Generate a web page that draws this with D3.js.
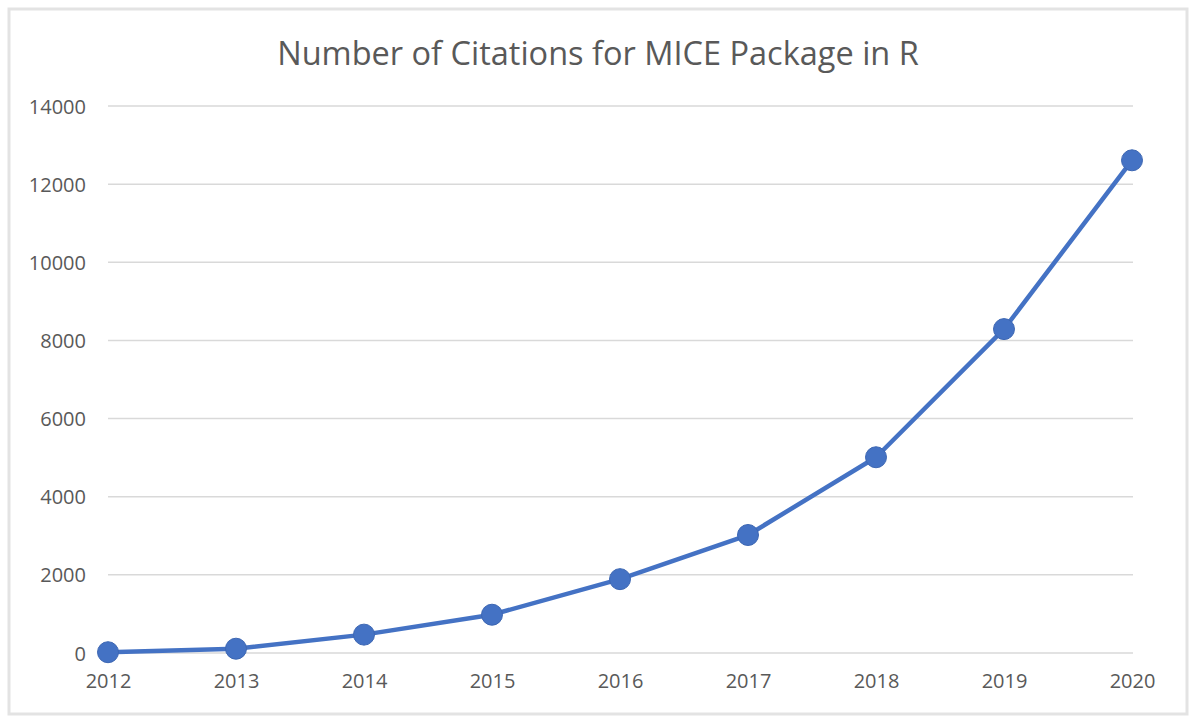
<!DOCTYPE html>
<html>
<head>
<meta charset="utf-8">
<script src="https://cdn.jsdelivr.net/npm/d3@7"></script>
<style>
  html, body { margin: 0; padding: 0; background: #fff; }
  svg { display: block; }
</style>
</head>
<body>
<svg id="chart" width="1200" height="721"></svg>
<script>
const years = ["2012","2013","2014","2015","2016","2017","2018","2019","2020"];
const citations = [20, 110, 470, 980, 1890, 3020, 5010, 8290, 12610];
const yTicks = [0, 2000, 4000, 6000, 8000, 10000, 12000, 14000];
const title = "Number of Citations for MICE Package in R";

const svg = d3.select("#chart");
const font = "'Open Sans', 'Noto Sans', sans-serif";

// frame
svg.append("rect").attr("x", 9).attr("y", 9).attr("width", 1178).attr("height", 705)
  .attr("fill", "#fff").attr("stroke", "#e3e3e3").attr("stroke-width", 3);

const x = d3.scalePoint().domain(years).range([108, 1132]);
const y = d3.scaleLinear().domain([0, 14000]).range([653, 106]);

// gridlines
svg.append("g").selectAll("line").data(yTicks).join("line")
  .attr("x1", 108).attr("x2", 1133)
  .attr("y1", d => y(d)).attr("y2", d => y(d))
  .attr("stroke", "#d9d9d9").attr("stroke-width", 1.5);

// y axis labels
const yAxis = d3.axisLeft(y).tickValues(yTicks).tickSize(0).tickPadding(0).tickFormat(d3.format("d"));
const gy = svg.append("g").attr("transform", "translate(86,0)").call(yAxis);
gy.select(".domain").remove();
gy.selectAll("text").attr("font-family", font).attr("font-size", 20).attr("fill", "#595959").attr("dy", "0.35em");

// x axis labels
const xAxis = d3.axisBottom(x).tickSize(0).tickPadding(0);
const gx = svg.append("g").attr("transform", "translate(0,674)").call(xAxis);
gx.select(".domain").remove();
gx.selectAll("text").attr("font-family", font).attr("font-size", 20).attr("fill", "#595959").attr("dy", "0.71em");

// title
svg.append("text").attr("x", 598).attr("y", 65).attr("text-anchor", "middle")
  .attr("font-family", font).attr("font-size", 32.5).attr("fill", "#595959").text(title);

// line
const data = years.map((yr, i) => ({yr, v: citations[i]}));
svg.append("path").datum(data)
  .attr("fill", "none").attr("stroke", "#4472C4").attr("stroke-width", 4.5)
  .attr("stroke-linejoin", "round")
  .attr("d", d3.line().x(d => x(d.yr)).y(d => y(d.v)));

svg.append("g").selectAll("circle").data(data).join("circle")
  .attr("cx", d => x(d.yr)).attr("cy", d => y(d.v)).attr("r", 10.5)
  .attr("fill", "#4472C4").attr("stroke", "#3d67b3").attr("stroke-width", 1);
</script>
</body>
</html>
